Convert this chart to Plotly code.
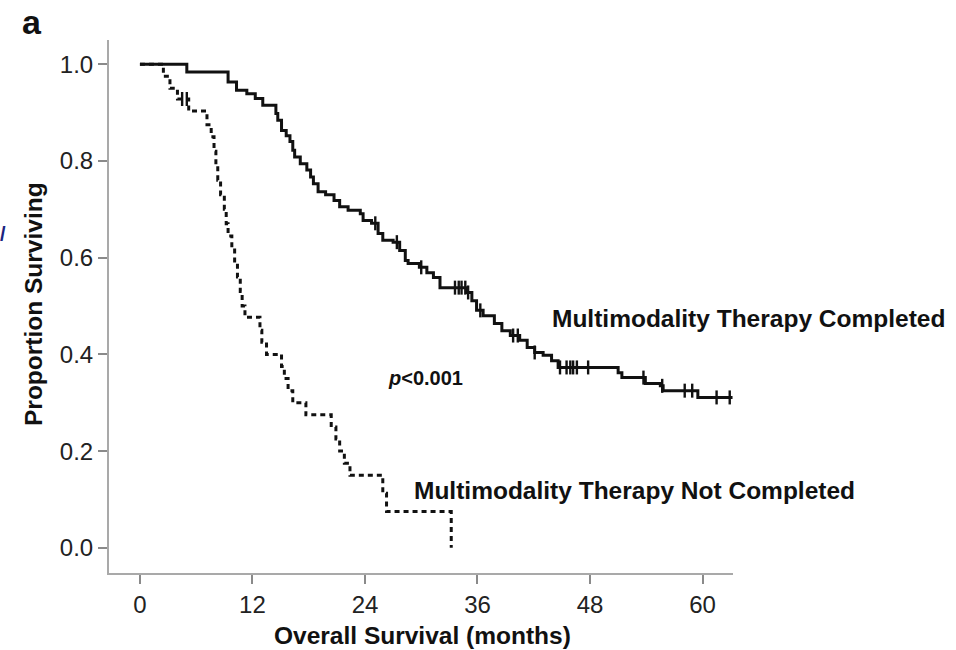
import plotly.graph_objects as go
import numpy as np

# ---------------- data ----------------
# Multimodality therapy completed: step times (months) and survival after each step
comp_times = [0, 5.0, 9.4, 10.3, 11.4, 12.3, 13.1, 14.5, 14.7, 15.1, 15.6, 16.0, 16.3, 16.5,
              17.1, 17.8, 18.2, 18.5, 19.0, 19.8, 20.7, 21.3, 22.2, 23.5, 23.8, 24.7, 25.4,
              25.9, 27.0, 27.7, 28.3, 28.6, 29.8, 30.6, 31.3, 32.0, 34.9, 35.4, 35.9, 36.6,
              37.8, 38.6, 39.5, 40.5, 41.3, 42.1, 43.0, 43.9, 44.6, 51.0, 51.4, 53.9, 55.5,
              55.8, 59.5]
comp_surv = [1.0, 0.984, 0.963, 0.946, 0.939, 0.929, 0.915, 0.898, 0.884, 0.863, 0.852, 0.840,
             0.822, 0.808, 0.794, 0.781, 0.767, 0.753, 0.736, 0.730, 0.718, 0.705, 0.698, 0.691,
             0.677, 0.671, 0.650, 0.636, 0.632, 0.615, 0.594, 0.588, 0.580, 0.569, 0.559, 0.538,
             0.528, 0.511, 0.491, 0.480, 0.464, 0.449, 0.439, 0.429, 0.414, 0.404, 0.398, 0.387,
             0.373, 0.362, 0.352, 0.340, 0.335, 0.325, 0.311]
comp_end = 63.2
comp_censor = [25.1, 27.4, 30.0, 33.6, 34.0, 34.3, 34.7, 35.0, 36.3, 39.8, 40.3, 42.1,
               44.8, 45.5, 45.9, 46.2, 46.6, 47.8, 53.7, 55.7, 58.1, 58.9, 61.5, 62.9]

# Multimodality therapy not completed
notc_times = [0, 2.5, 3.2, 4.0, 5.2, 7.15, 7.6, 7.9, 8.1, 8.3, 8.6, 9.0, 9.2, 9.4, 9.8, 10.1,
              10.4, 10.7, 10.9, 11.2, 12.8, 13.0, 13.5, 15.1, 15.4, 15.8, 16.3, 17.7, 20.4,
              20.9, 21.3, 21.8, 22.4, 25.9, 26.3, 33.2]
notc_surv = [1.0, 0.975, 0.95, 0.928, 0.903, 0.875, 0.85, 0.82, 0.79, 0.76, 0.73, 0.70, 0.67,
             0.645, 0.62, 0.59, 0.56, 0.53, 0.50, 0.477, 0.45, 0.425, 0.40, 0.375, 0.35, 0.325,
             0.30, 0.275, 0.25, 0.225, 0.20, 0.175, 0.15, 0.113, 0.075, 0.0]
notc_end = 33.2
notc_censor = [4.5, 5.0]

x_ticks = [0, 12, 24, 36, 48, 60]
y_ticks = [0.0, 0.2, 0.4, 0.6, 0.8, 1.0]
y_tick_text = ["0.0", "0.2", "0.4", "0.6", "0.8", "1.0"]


def step_value(times, surv, t):
    idx = np.searchsorted(np.array(times), t, side="right") - 1
    return surv[max(idx, 0)]


FONT = "Liberation Sans, Arial, sans-serif"
INK = "#111111"
W, H = 956, 650
L, R, T, B = 109, 223, 40, 77
PW, PH = W - L - R, H - T - B


def px(x):
    return (x - L) / PW


def py(y):
    return (H - B - y) / PH


fig = go.Figure()

fig.add_trace(go.Scatter(
    x=comp_times + [comp_end], y=comp_surv + [comp_surv[-1]],
    mode="lines", line=dict(color=INK, width=3, shape="hv"),
    showlegend=False, hoverinfo="skip"))

fig.add_trace(go.Scatter(
    x=notc_times + [notc_end], y=notc_surv + [notc_surv[-1]],
    mode="lines", line=dict(color=INK, width=3, shape="hv", dash="5px,4px"),
    showlegend=False, hoverinfo="skip"))

censor_marker = dict(symbol="line-ns-open", size=10, color=INK,
                     line=dict(color=INK, width=2.4))

fig.add_trace(go.Scatter(
    x=comp_censor, y=[step_value(comp_times, comp_surv, t) for t in comp_censor],
    mode="markers", marker=censor_marker, showlegend=False, hoverinfo="skip"))

fig.add_trace(go.Scatter(
    x=notc_censor, y=[step_value(notc_times, notc_surv, t) for t in notc_censor],
    mode="markers", marker=censor_marker, showlegend=False, hoverinfo="skip"))

axis_common = dict(showgrid=False, zeroline=False, showline=True, linecolor="#a9a9a9",
                   linewidth=2, ticks="outside", ticklen=9, tickwidth=2, tickcolor="#8a8a8a",
                   tickfont=dict(family=FONT, size=24, color="#222222"))

fig.update_xaxes(range=[-3.3, 63.25], tickvals=x_ticks, **axis_common)
fig.update_yaxes(range=[-0.052, 1.05], tickvals=y_ticks, ticktext=y_tick_text,
                 **axis_common)

bold = dict(family=FONT, size=24.5, color=INK)
annots = [
    dict(x=px(550), y=py(318), text="<b>Multimodality Therapy Completed</b>",
         xanchor="left", yanchor="middle", font=bold),
    dict(x=px(412), y=py(490), text="<b>Multimodality Therapy Not Completed</b>",
         xanchor="left", yanchor="middle", font=bold),
    dict(x=px(386), y=py(378), text="<b><i>p</i>&lt;0.001</b>",
         xanchor="left", yanchor="middle", font=dict(family=FONT, size=20, color=INK)),
    dict(x=px(422), y=py(635), text="<b>Overall Survival (months)</b>",
         xanchor="center", yanchor="middle", font=bold),
    dict(x=px(33), y=py(304), text="<b>Proportion Surviving</b>", textangle=-90,
         xanchor="center", yanchor="middle", font=bold),
    dict(x=px(32), y=py(22), text="<b>a</b>",
         xanchor="center", yanchor="middle", font=dict(family=FONT, size=34, color=INK)),
    dict(x=px(3), y=py(234), text="<b>/</b>", xanchor="center", yanchor="middle",
         font=dict(family=FONT, size=20, color="#1a237e")),
]
for a in annots:
    a.update(xref="paper", yref="paper", showarrow=False)

fig.update_layout(
    width=W, height=H, margin=dict(l=L, r=R, t=T, b=B),
    paper_bgcolor="white", plot_bgcolor="white",
    annotations=annots, showlegend=False)

fig.write_html("out.html")
